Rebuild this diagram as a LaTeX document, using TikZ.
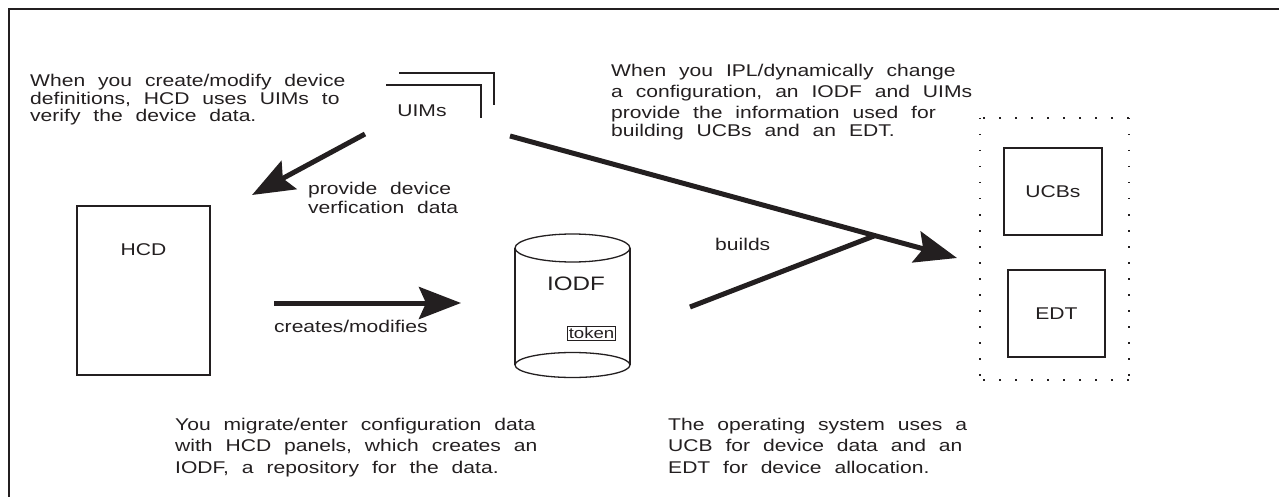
\documentclass[tikz,border=0pt]{standalone}
\usepackage{fontspec}
\setmainfont{Liberation Sans}[FakeStretch=1.24]
\usetikzlibrary{arrows.meta}
\usetikzlibrary{positioning}
\definecolor{ink}{HTML}{231F20}
% wide word spaces of the original
\newcommand\wordgap{\spaceskip=12.9pt plus 5pt minus 2pt\xspaceskip=13.5pt plus 5pt minus 2pt\relax}

\tikzset{
  note/.style={anchor=base west, inner sep=0pt, text width=#1},
  note/.default=400pt,
  unit/.style={draw=ink, line width=1.3pt, inner sep=0pt},
  flow/.style={draw=ink, line width=5pt, -{Stealth[length=42pt,width=32pt,inset=7pt]}},
  thickline/.style={draw=ink, line width=5pt},
}

\begin{document}
\begin{tikzpicture}[x=1pt,y=-1pt,color=ink,text=ink,font=\fontsize{17}{21}\selectfont]
    \useasboundingbox (0,0) rectangle (1279,497);
    % outer frame
    \draw[line width=1.5pt] (1285,9) -- (9,9) -- (9,505);

    % explanations
    \node[note=350pt, font=\fontsize{17}{17.5}\selectfont] (txtdefine) at (30,87)
        {\wordgap When you create/modify device\\definitions, HCD uses UIMs to\\verify the device data.};
    \node[note] (txtipl) at (611,77)
        {\wordgap When you IPL/dynamically change\\a configuration, an IODF and UIMs\\provide the information used for\\[-3pt]building UCBs and an EDT.};
    \node[note, font=\fontsize{17}{21.5}\selectfont] (txtmigrate) at (175,430)
        {\wordgap You migrate/enter configuration data\\with HCD panels, which creates an\\IODF, a repository for the data.};
    \node[note=350pt, font=\fontsize{17}{21.5}\selectfont] (txtos) at (668,430)
        {\wordgap The operating system uses a\\UCB for device data and an\\EDT for device allocation.};

    % UIMs
    \node[anchor=base] (uims) at (422,117) {UIMs};
    \draw[line width=1.2pt] (386,85) -- (481,85) -- (481,118);
    \draw[line width=1.2pt] (399,73) -- (494,73) -- (494,105);

    % HCD
    \node[unit, minimum width=133pt, minimum height=169pt] (hcd) at (143.5,290.5) {};
    \node[anchor=base] (hcdname) at ([yshift=-50pt]hcd.north) {HCD};

    % IODF cylinder
    \draw[line width=1.3pt] (515,248) -- (515,365);
    \draw[line width=1.3pt] (630,248) -- (630,365);
    \draw[line width=1.3pt, fill=white] (572.5,248) ellipse [x radius=57.5pt, y radius=14pt];
    \draw[line width=1.3pt] (572.5,365) ellipse [x radius=57.5pt, y radius=12.5pt];
    \node[font=\fontsize{19.5}{19.5}\selectfont] (iodf) at (576,284) {IODF};
    \node[draw, line width=0.8pt, inner sep=1.2pt, font=\fontsize{15}{15}\selectfont] (token) at (591.5,333.5) {token};

    % UCBs and EDT
    \draw[line width=1.3pt, dash pattern=on 2pt off 14pt] (1129,118) -- (980,118) (1129,380) -- (980,380);
    \draw[line width=1.3pt, dash pattern=on 1.5pt off 14.5pt] (1129,118) -- (1129,380) (980,118) -- (980,380);
    \node[unit, minimum width=98pt, minimum height=87pt] (ucbs) at (1053,191.5) {UCBs};
    \node[unit, minimum width=97pt, minimum height=87pt] (edt) at (1056.5,313.5) {EDT};

    % connector ends
    \coordinate (uimsfoot) at (365,134);
    \coordinate (hcdtop) at (252,195);
    \coordinate (hcdout) at (274,303);
    \coordinate (iodfin) at (461,303);
    \coordinate (uimsright) at (510,136);
    \coordinate (sysin) at (957,258);
    \coordinate (iodfout) at (690,307);
    \coordinate (buildjoin) at (875,235.6);

    % arrows
    \draw[flow] (uimsfoot) -- (hcdtop);
    \draw[flow] (hcdout) -- (iodfin);
    \draw[flow] (uimsright) -- (sysin);
    \draw[thickline] (iodfout) -- (buildjoin);

    % arrow labels
    \node[note=200pt, font=\fontsize{17}{19}\selectfont] (provide) at (308,194) {\wordgap provide device\\verfication data};
    \node[anchor=base west, inner sep=0pt] (creates) at (274,332) {creates/modifies};
    \node[anchor=base west, inner sep=0pt] (builds) at (715,250) {builds};
\end{tikzpicture}
\end{document}
